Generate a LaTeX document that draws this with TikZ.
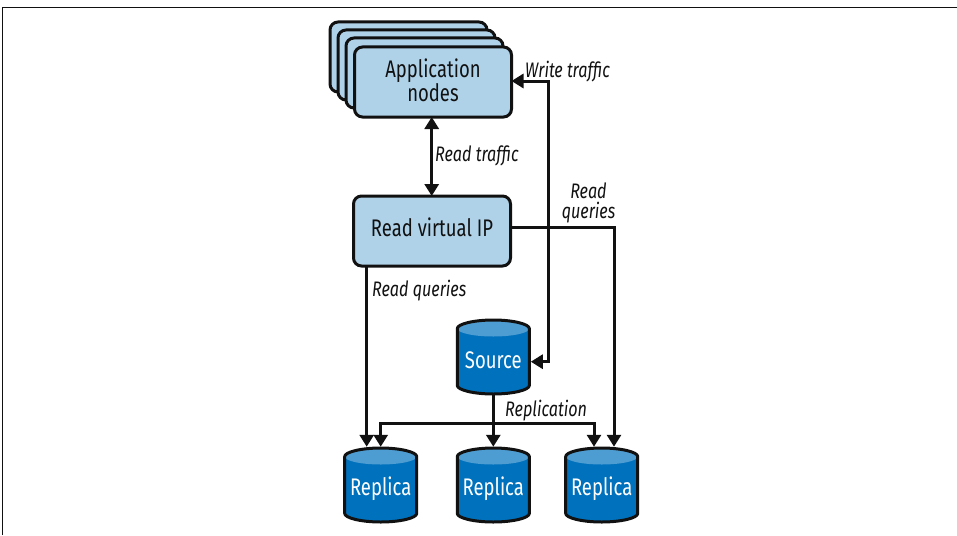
\documentclass[tikz,border=0pt]{standalone}
\usepackage{fontspec}
\setmainfont{Fira Sans}[FakeStretch=0.77]
\usetikzlibrary{arrows.meta}
\definecolor{boxfill}{HTML}{AFD2E9}
\definecolor{cylbody}{HTML}{0071BC}
\definecolor{cyltop}{HTML}{4D9CD2}
\definecolor{ink}{HTML}{111111}
% #1 name, #2 x, #3 y, #4 text height (sets the baseline), #5 text
\newcommand{\dbnode}[5]{%
  \begin{scope}[shift={(#2,#3)}]
    \fill[cylbody] (-36,-28.5) .. controls (-36,-32.9) and (-19.9,-37) .. (0,-37)
      .. controls (19.9,-37) and (36,-32.9) .. (36,-28.5) -- (36,28.5)
      .. controls (36,32.9) and (19.9,37) .. (0,37)
      .. controls (-19.9,37) and (-36,32.9) .. (-36,28.5) -- cycle;
    \fill[cyltop] (-36,-28.5) .. controls (-36,-32.9) and (-19.9,-37) .. (0,-37)
      .. controls (19.9,-37) and (36,-32.9) .. (36,-28.5)
      .. controls (36,-24.1) and (19.9,-20.5) .. (0,-20.5)
      .. controls (-19.9,-20.5) and (-36,-24.1) .. (-36,-28.5) -- cycle;
    \draw[ink,line width=3pt,line join=round] (-36,-28.5) .. controls (-36,-32.9) and (-19.9,-37) .. (0,-37)
      .. controls (19.9,-37) and (36,-32.9) .. (36,-28.5) -- (36,28.5)
      .. controls (36,32.9) and (19.9,37) .. (0,37)
      .. controls (-19.9,37) and (-36,32.9) .. (-36,28.5) -- cycle;
    \node[db,text height=#4] (#1) at (0,0) {#5};
  \end{scope}}
\tikzset{
  box/.style={draw=ink,fill=boxfill,line width=3pt,rounded corners=8pt,minimum width=157pt,minimum height=70pt,
    outer sep=0pt,inner sep=0pt,align=center,font=\fontsize{24}{24}\selectfont,text=ink},
  backbox/.style={box},
  db/.style={rectangle,minimum width=75pt,minimum height=76.5pt,outer sep=0pt,inner sep=0pt,
    text=white,font=\fontsize{24}{24}\selectfont,text depth=0pt},
  link/.style={draw=ink,line width=3pt},
  arrow/.style={link,-{Triangle[length=12pt,width=14pt]}},
  both/.style={link,{Triangle[length=12pt,width=14pt]}-{Triangle[length=12pt,width=14pt]}},
  lbl/.style={font=\fontsize{21}{20}\selectfont\itshape,text=ink,inner sep=0pt,align=center},
}
\begin{document}
\begin{tikzpicture}[x=1pt,y=-1pt]
\useasboundingbox (0,0) rectangle (957,535);
\draw[ink,line width=1.2pt] (2.5,535) -- (2.5,7.5) -- (957,7.5);
% application stack
\node[backbox] (app4) at (408.5,57) {};
\node[backbox] (app3) at (416.5,65) {};
\node[backbox] (app2) at (424.5,73) {};
\node[box,text depth=4pt] (app) at (433,82) {Application\\nodes};
\node[box,text height=11.4pt,text depth=0pt] (vip) at (432,231) {Read virtual IP};
% databases
\dbnode{src}{493.3}{357}{22pt}{Source}
\dbnode{rep1}{380.7}{485}{20pt}{Replica}
\dbnode{rep2}{493.3}{485}{20pt}{Replica}
\dbnode{rep3}{601.7}{485}{20pt}{Replica}
% routing coordinates
\coordinate (wx) at (548.7,81);
\coordinate (wy) at (548.7,361.7);
\coordinate (qx) at (366.7,266);
\coordinate (rx) at (614,227.7);
\coordinate (busy) at (0,423.7);
\coordinate (bl) at (380.7,423.7);
\coordinate (br) at (594,423.7);
% connectors
\draw[both] (app.south -| 431.7,0) -- (vip.north -| 431.7,0);
\draw[both] (app.east |- wx) -- (wx) -- (wy) -- (src.east |- wy);
\draw[arrow] (vip.east |- rx) -- (rx) -- (rep3.north -| rx);
\draw[arrow] (vip.south -| qx) -- (rep1.north -| qx);
\draw[arrow] (src.south) -- (rep2.north);
\draw[arrow] (bl |- busy) -- (br |- busy) -- (rep3.north -| br);
\draw[arrow] (br |- busy) -- (bl |- busy) -- (rep1.north -| bl);
% labels
\node[lbl,anchor=base west] (lw) at (525,77) {Write traffic};
\node[lbl,anchor=base west] (lr) at (435,161.7) {Read traffic};
\node[lbl] (lq) at (588.5,203) {Read\\queries};
\node[lbl,anchor=base west] (lq2) at (372,296) {Read queries};
\node[lbl,anchor=base west] (lrep) at (505,416.7) {Replication};
\end{tikzpicture}
\end{document}
